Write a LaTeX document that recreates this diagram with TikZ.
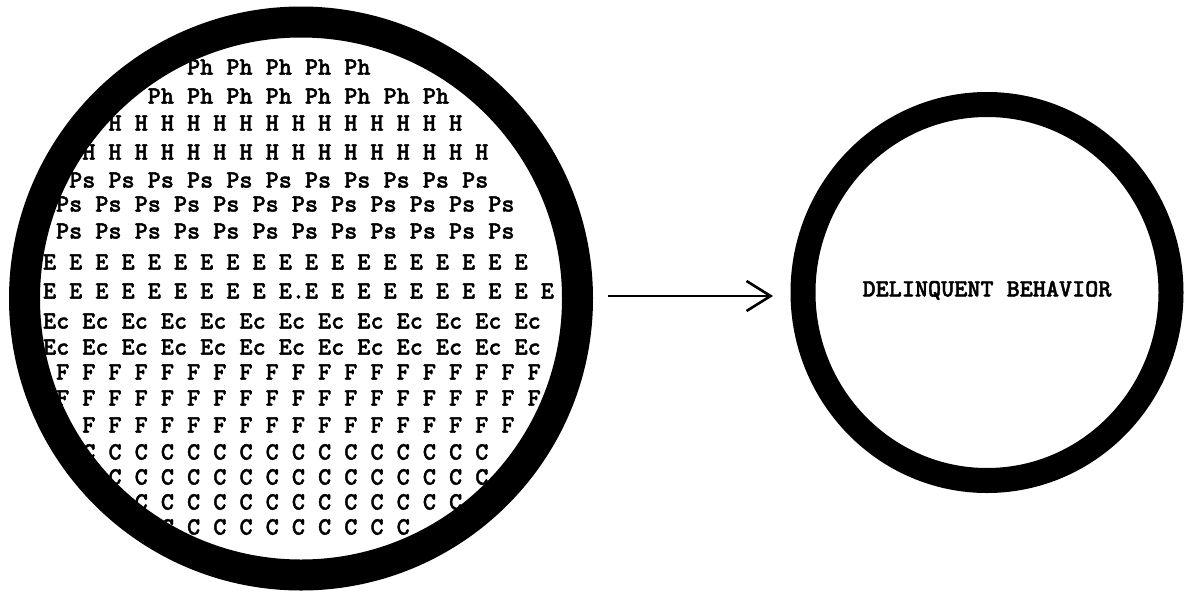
\documentclass[tikz,border=0pt]{standalone}
\usepackage{fontspec}
\usetikzlibrary{arrows.meta,shapes.geometric}
% heavy typewriter face used for every label
\newfontfamily\typeface{lmmonolt10-bold.otf}[FakeBold=1.6]
\newcommand\typewr{\fontsize{24.95}{30}\selectfont\typeface\frenchspacing}
\tikzset{
  typed/.style={anchor=base west, inner sep=0pt, outer sep=0pt, font=\typewr},
  ring/.style={draw=black, inner sep=0pt, outer sep=0pt},
  conn/.style={line width=2.6pt,
    -{Straight Barb[length=24pt,width=30pt,line width=2.6pt]}}
}
\begin{document}
\begin{tikzpicture}[x=1pt, y=-1pt]
\path[use as bounding box] (0,0) rectangle (1189,592);

% rows of factor letters (column k starts at 43 + 13.1k)
\node[typed] (r1)  at (187.1, 74.6) {Ph Ph Ph Ph Ph};
\node[typed] (r2)  at (147.8,103.6) {Ph Ph Ph Ph Ph Ph Ph Ph};
\node[typed] (r3)  at (108.5,130.6) {H H H H H H H H H H H H H H};
\node[typed] (r4)  at ( 82.3,159.6) {H H H H H H H H H H H H H H H H};
\node[typed] (r5)  at ( 69.2,187.6) {Ps Ps Ps Ps Ps Ps Ps Ps Ps Ps Ps};
\node[typed] (r6)  at ( 56.1,211.6) {Ps Ps Ps Ps Ps Ps Ps Ps Ps Ps Ps Ps};
\node[typed] (r7)  at ( 56.1,238.6) {Ps Ps Ps Ps Ps Ps Ps Ps Ps Ps Ps Ps};
\node[typed] (r8)  at ( 43.0,269.6) {E E E E E E E E E E E E E E E E E E E};
\node[typed] (r9)  at ( 43.0,298.6) {E E E E E E E E E E.E E E E E E E E E E};
\node[typed] (r10) at ( 43.0,328.6) {Ec Ec Ec Ec Ec Ec Ec Ec Ec Ec Ec Ec Ec};
\node[typed] (r11) at ( 43.0,354.6) {Ec Ec Ec Ec Ec Ec Ec Ec Ec Ec Ec Ec Ec};
\node[typed] (r12) at ( 56.1,379.6) {F F F F F F F F F F F F F F F F F F F};
\node[typed] (r13) at ( 56.1,405.6) {F F F F F F F F F F F F F F F F F F F};
\node[typed] (r14) at ( 82.3,432.6) {F F F F F F F F F F F F F F F F F};
\node[typed] (r15) at ( 82.3,459.6) {C C C C C C C C C C C C C C C C};
\node[typed] (r16) at (108.5,484.6) {C C C C C C C C C C C C C C C};
\node[typed] (r17) at (134.7,509.6) {C C C C C C C C C C C C C};
\node[typed] (r18) at (160.9,534.6) {C C C C C C C C C C};

% the two heavy rings
\node[ring, circle, line width=31pt, minimum size=553pt] (cause) at (301,298.5) {};
\node[ring, ellipse, line width=25pt, minimum width=368pt, minimum height=376pt] (effect) at (987,292.5) {};

\node[typed, anchor=base] (outcome) at (987,296.5) {DELINQUENT BEHAVIOR};

% causal arrow
\draw[conn] ([xshift=30pt,yshift=2.5pt]cause.east) -- ([xshift=-30pt,yshift=-3.5pt]effect.west);
\end{tikzpicture}
\end{document}
